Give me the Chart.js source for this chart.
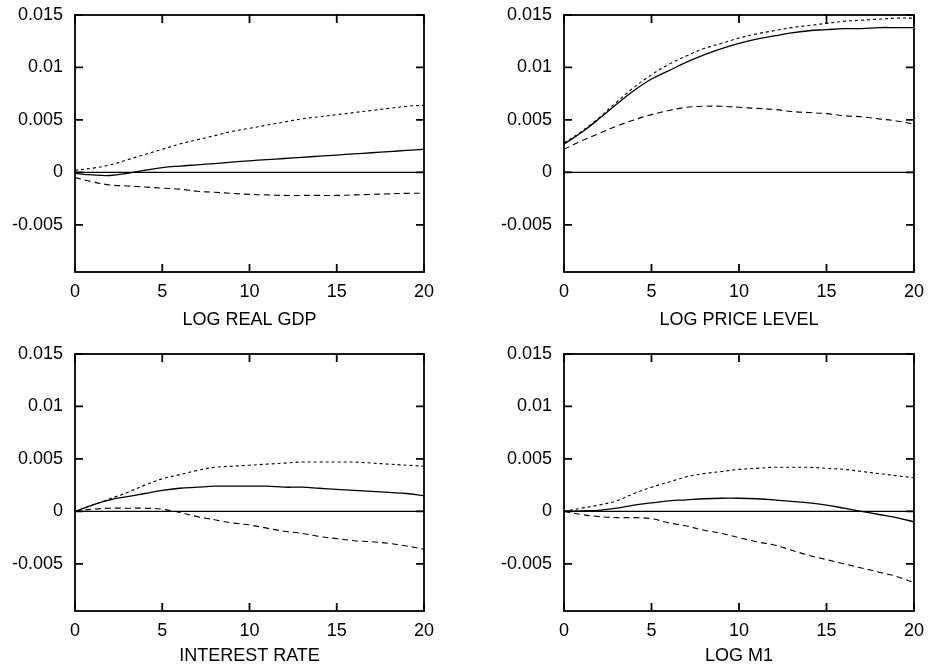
<!DOCTYPE html>
<html>
<head>
<meta charset="utf-8">
<script src="https://cdn.jsdelivr.net/npm/chart.js@4/dist/chart.umd.min.js"></script>
<style>
  html, body { margin: 0; padding: 0; background: #fff; }
  #wrap { position: relative; width: 929px; height: 671px; overflow: hidden; }
  .panel { position: absolute; }
</style>
</head>
<body>
<div id="wrap"></div>
<script>
// Impulse responses over a 20-quarter horizon: point estimate with upper/lower bands
const horizons = [0,1,2,3,4,5,6,7,8,9,10,11,12,13,14,15,16,17,18,19,20];
const xTickStep = 5;
const yTickValues = [-0.005, 0, 0.005, 0.01, 0.015];
const yMin = -0.0095;
const yMax = 0.015;

const panelTitles = ['LOG REAL GDP', 'LOG PRICE LEVEL', 'INTEREST RATE', 'LOG M1'];

const gdpUpper = [0.0002,0.0004,0.0007,0.0012,0.0017,0.0022,0.0027,0.0031,0.0035,0.0039,0.0042,0.0045,0.0048,0.0051,0.0053,0.0055,0.0057,0.0059,0.0061,0.0063,0.0064];
const gdpPoint = [-0.0001,-0.00025,-0.0003,-0.0001,0.0002,0.00045,0.0006,0.00072,0.00084,0.00097,0.0011,0.00121,0.00132,0.00143,0.00154,0.00165,0.00176,0.00187,0.00198,0.00209,0.0022];
const gdpLower = [-0.0005,-0.0009,-0.0012,-0.0013,-0.0014,-0.0015,-0.0016,-0.0018,-0.0019,-0.0020,-0.0021,-0.00215,-0.0022,-0.0022,-0.0022,-0.0022,-0.00215,-0.0021,-0.00205,-0.0020,-0.0020];

const priceUpper = [0.0028,0.0039,0.0052,0.0067,0.0081,0.0093,0.0103,0.0111,0.0118,0.0123,0.0128,0.0132,0.0135,0.0138,0.0140,0.0142,0.0144,0.0145,0.0146,0.0147,0.0147];
const pricePoint = [0.0027,0.0038,0.0051,0.0065,0.0078,0.0089,0.0097,0.0105,0.0112,0.0118,0.0123,0.0127,0.0130,0.0133,0.0135,0.0136,0.0137,0.0137,0.0138,0.0138,0.0138];
const priceLower = [0.0022,0.0030,0.0037,0.0044,0.0050,0.0055,0.0059,0.0062,0.0063,0.0063,0.0062,0.0061,0.0060,0.0058,0.0057,0.0056,0.0054,0.0053,0.0051,0.0049,0.0046];

const rateUpper = [0.0000,0.0006,0.0012,0.0018,0.0025,0.0031,0.0035,0.0039,0.0042,0.0043,0.0044,0.0045,0.0046,0.0047,0.0047,0.0047,0.0047,0.0046,0.0045,0.0044,0.0043];
const ratePoint = [0.0000,0.0006,0.0011,0.0014,0.0017,0.0020,0.0022,0.0023,0.0024,0.0024,0.0024,0.0024,0.0023,0.0023,0.0022,0.0021,0.0020,0.0019,0.0018,0.0017,0.0015];
const rateLower = [0.0000,0.0002,0.0003,0.0003,0.0003,0.0002,-0.0001,-0.0005,-0.0008,-0.0011,-0.0013,-0.0016,-0.0019,-0.0021,-0.0024,-0.0026,-0.0028,-0.0029,-0.00305,-0.0033,-0.0036];

const m1Upper = [0.0000,0.0003,0.0006,0.0010,0.0017,0.0023,0.0028,0.0033,0.0036,0.0038,0.0040,0.0041,0.0042,0.0042,0.0042,0.0041,0.0040,0.0038,0.0036,0.0034,0.0032];
const m1Point = [0.0000,0.00005,0.0001,0.0003,0.0006,0.0008,0.0010,0.0011,0.0012,0.00125,0.00125,0.0012,0.0011,0.00095,0.0008,0.0006,0.0003,0.0000,-0.0003,-0.0006,-0.0010];
const m1Lower = [0.0000,-0.0003,-0.0005,-0.0006,-0.0006,-0.0007,-0.0011,-0.0014,-0.0018,-0.0021,-0.0025,-0.0029,-0.0032,-0.0037,-0.0042,-0.0046,-0.0050,-0.0054,-0.0058,-0.0062,-0.0068];

// Panel placement on the page (2 x 2 grid)
const panels = [
  { title: panelTitles[0], upper: gdpUpper,   point: gdpPoint,   lower: gdpLower,   left: 0,   top: 0,   w: 464, h: 335, yw: 75,  padTop: 15, padRight: 40, xh: 63 },
  { title: panelTitles[1], upper: priceUpper, point: pricePoint, lower: priceLower, left: 464, top: 0,   w: 465, h: 335, yw: 100, padTop: 15, padRight: 15, xh: 63 },
  { title: panelTitles[2], upper: rateUpper,  point: ratePoint,  lower: rateLower,  left: 0,   top: 335, w: 464, h: 336, yw: 75,  padTop: 19, padRight: 40, xh: 60 },
  { title: panelTitles[3], upper: m1Upper,    point: m1Point,    lower: m1Lower,    left: 464, top: 335, w: 465, h: 336, yw: 100, padTop: 19, padRight: 15, xh: 60 }
];

const FONT = { family: "'Liberation Sans', Arial, Helvetica, sans-serif", size: 18 };

function formatTick(v) {
  if (Math.abs(v) < 1e-12) return '0';
  return String(parseFloat(v.toFixed(4)));
}

// Zero reference line, boxed frame and inward tick marks on all four sides
const framePlugin = {
  id: 'gnuFrame',
  beforeDatasetsDraw(chart) {
    const { ctx, chartArea: a, scales: { y } } = chart;
    const y0 = y.getPixelForValue(0);
    ctx.save();
    ctx.strokeStyle = '#000';
    ctx.lineWidth = 1.2;
    ctx.beginPath();
    ctx.moveTo(a.left, y0);
    ctx.lineTo(a.right, y0);
    ctx.stroke();
    ctx.restore();
  },
  afterDatasetsDraw(chart) {
    const { ctx, chartArea: a, scales: { x, y } } = chart;
    const len = 8;
    ctx.save();
    ctx.strokeStyle = '#000';
    ctx.lineWidth = 1.8;
    ctx.beginPath();
    x.ticks.forEach(t => {
      const px = x.getPixelForValue(t.value);
      ctx.moveTo(px, a.bottom); ctx.lineTo(px, a.bottom - len);
      ctx.moveTo(px, a.top);    ctx.lineTo(px, a.top + len);
    });
    y.ticks.forEach(t => {
      const py = y.getPixelForValue(t.value);
      ctx.moveTo(a.left, py);  ctx.lineTo(a.left + len, py);
      ctx.moveTo(a.right, py); ctx.lineTo(a.right - len, py);
    });
    ctx.stroke();
    ctx.lineWidth = 1.8;
    ctx.strokeRect(a.left, a.top, a.right - a.left, a.bottom - a.top);
    ctx.restore();
  }
};

const wrap = document.getElementById('wrap');

panels.forEach(p => {
  const div = document.createElement('div');
  div.className = 'panel';
  div.style.left = p.left + 'px';
  div.style.top = p.top + 'px';
  div.style.width = p.w + 'px';
  div.style.height = p.h + 'px';
  const canvas = document.createElement('canvas');
  canvas.width = p.w;
  canvas.height = p.h;
  canvas.style.width = p.w + 'px';
  canvas.style.height = p.h + 'px';
  div.appendChild(canvas);
  wrap.appendChild(div);

  const toXY = arr => horizons.map((h, i) => ({ x: h, y: arr[i] }));
  const lineBase = { borderColor: '#000', pointRadius: 0, tension: 0.4, fill: false };

  new Chart(canvas.getContext('2d'), {
    type: 'line',
    data: {
      datasets: [
        Object.assign({ label: 'upper', data: toXY(p.upper), borderWidth: 1.1, borderDash: [3, 3] }, lineBase),
        Object.assign({ label: 'estimate', data: toXY(p.point), borderWidth: 1.3 }, lineBase),
        Object.assign({ label: 'lower', data: toXY(p.lower), borderWidth: 1.1, borderDash: [6, 4] }, lineBase)
      ]
    },
    options: {
      responsive: false,
      animation: false,
      events: [],
      devicePixelRatio: 1,
      layout: { padding: { top: p.padTop, right: p.padRight, left: 0, bottom: 0 } },
      plugins: { legend: { display: false }, tooltip: { enabled: false } },
      scales: {
        x: {
          type: 'linear',
          min: 0,
          max: 20,
          afterFit: s => { s.height = p.xh; s.paddingLeft = 0; s.paddingRight = 0; },
          grid: { display: false, drawTicks: false },
          border: { display: false },
          ticks: { stepSize: xTickStep, color: '#000', font: FONT, padding: 9, maxRotation: 0 },
          title: { display: true, text: p.title, color: '#000', font: FONT, padding: { top: 0, bottom: 4 } }
        },
        y: {
          type: 'linear',
          min: yMin,
          max: yMax,
          afterFit: s => { s.width = p.yw; s.paddingTop = 0; s.paddingBottom = 0; },
          afterBuildTicks: s => { s.ticks = yTickValues.map(v => ({ value: v })); },
          grid: { display: false, drawTicks: false },
          border: { display: false },
          ticks: { color: '#000', font: FONT, padding: 12, callback: v => formatTick(v) }
        }
      }
    },
    plugins: [framePlugin]
  });
});
</script>
</body>
</html>
